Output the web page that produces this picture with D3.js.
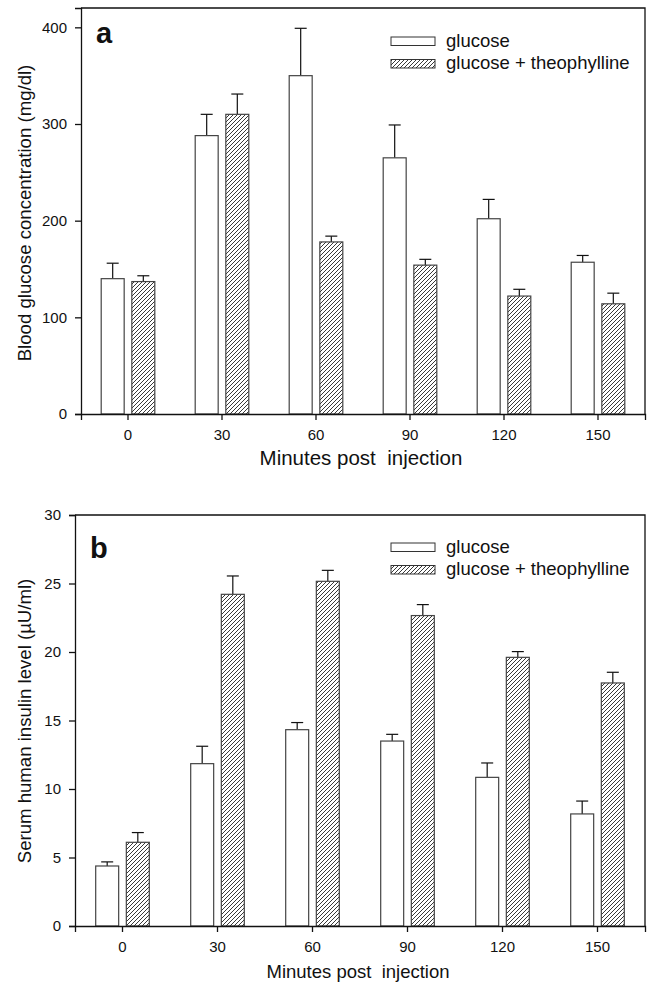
<!DOCTYPE html>
<meta charset="utf-8">
<style>
  body { margin: 0; background: #fff; }
  text { font-family: "Liberation Sans", Arial, sans-serif; fill: #111; }
  .domain { stroke: #111; stroke-width: 1.3; }
  .tick line { stroke: #111; stroke-width: 1.3; }
</style>
<body>
<script src="https://cdn.jsdelivr.net/npm/d3@7"></script>
<script>
  var minutes = ["0", "30", "60", "90", "120", "150"];
  var series = ["glucose", "glucose + theophylline"];

  // panel a: blood glucose (mg/dl)
  var bgGlucose = [140, 288, 350, 265, 202, 157];
  var bgGlucoseErr = [16, 22, 49, 34, 20, 7];
  var bgTheo = [137, 310, 178, 154, 122, 114];
  var bgTheoErr = [6, 21, 6, 6, 7, 11];
  var bgTicks = [0, 100, 200, 300, 400];

  // panel b: serum insulin (uU/ml)
  var insGlucose = [4.38, 11.85, 14.33, 13.5, 10.85, 8.18];
  var insGlucoseErr = [0.3, 1.27, 0.52, 0.49, 1.05, 0.94];
  var insTheo = [6.11, 24.21, 25.16, 22.66, 19.61, 17.74];
  var insTheoErr = [0.71, 1.34, 0.8, 0.8, 0.42, 0.78];
  var insTicks = [0, 5, 10, 15, 20, 25, 30];

  var width = 648, height = 983;

  var svg = d3.select("body").append("svg")
    .attr("width", width)
    .attr("height", height)

  var defs = svg.append("defs");
  defs.append("pattern")
    .attr("id", "hatch")
    .attr("patternUnits", "userSpaceOnUse")
    .attr("width", 4)
    .attr("height", 4)
    .append("path")
    .attr("d", "M-1,1 l2,-2 M0,4 l4,-4 M3,5 l2,-2")
    .attr("stroke", "#222")
    .attr("stroke-width", 0.9)

  function panel(p) {
    var g = svg.append("g");

    var x = d3.scaleBand().domain(minutes).range([p.left, p.right]);
    var bw = x.bandwidth();
    var x1 = d3.scaleBand().domain(series)
      .range([bw / 2 - 26.8, bw / 2 + 26.8]).paddingInner(0.25);
    var y = d3.scaleLinear().domain([0, p.ymax]).range([p.bottom, p.top]);

    var rows = [];
    minutes.forEach(function(m, i) {
      rows.push({ m: m, s: series[0], v: p.a[i], e: p.ae[i] });
      rows.push({ m: m, s: series[1], v: p.b[i], e: p.be[i] });
    });

    // error bars (drawn first so bar outline sits on top)
    var eb = g.selectAll(".err").data(rows).enter().append("g").attr("class", "err");
    eb.append("line")
      .attr("x1", function(d) { return x(d.m) + x1(d.s) + x1.bandwidth() / 2 })
      .attr("x2", function(d) { return x(d.m) + x1(d.s) + x1.bandwidth() / 2 })
      .attr("y1", function(d) { return y(d.v) })
      .attr("y2", function(d) { return y(d.v + d.e) })
      .attr("stroke", "#111").attr("stroke-width", 1.2)
    eb.append("line")
      .attr("x1", function(d) { return x(d.m) + x1(d.s) + x1.bandwidth() / 2 - 6 })
      .attr("x2", function(d) { return x(d.m) + x1(d.s) + x1.bandwidth() / 2 + 6 })
      .attr("y1", function(d) { return y(d.v + d.e) })
      .attr("y2", function(d) { return y(d.v + d.e) })
      .attr("stroke", "#111").attr("stroke-width", 1.2)

    g.selectAll(".bar").data(rows).enter().append("rect")
      .attr("x", function(d) { return x(d.m) + x1(d.s) })
      .attr("width", x1.bandwidth())
      .attr("y", function(d) { return y(d.v) })
      .attr("height", function(d) { return y(0) - y(d.v) })
      .attr("fill", function(d) { return d.s == series[0] ? "#fff" : "url(#hatch)" })
      .attr("stroke", "#444")
      .attr("stroke-width", 1.2)

    // frame top and right
    g.append("path")
      .attr("d", "M" + p.left + "," + p.top + "H" + p.right + "V" + p.bottom)
      .attr("fill", "none").attr("stroke", "#111").attr("stroke-width", 1.3)

    var xa = g.append("g")
      .attr("transform", "translate(0," + p.bottom + ")")
      .call(d3.axisBottom(x).tickSizeOuter(0).tickSize(6).tickPadding(9))
    xa.selectAll("text").style("font-size", "15px")

    var ya = g.append("g")
      .attr("transform", "translate(" + p.left + ",0)")
      .call(d3.axisLeft(y).tickValues(p.ticks).tickSizeOuter(0).tickSize(6).tickPadding(8))
    ya.selectAll("text").style("font-size", "15px")

    g.append("text")
      .attr("x", (p.left + p.right) / 2 - 2)
      .attr("y", p.xtitleY)
      .attr("text-anchor", "middle")
      .style("font-size", p.xtitleSize + "px")
      .style("white-space", "pre")
      .text("Minutes post  injection")

    g.append("text")
      .attr("transform", "translate(31," + p.ytitleY + ") rotate(-90)")
      .attr("text-anchor", "middle")
      .style("font-size", "18.6px")
      .text(p.ytitle)

    g.append("text")
      .attr("x", p.left + 15)
      .attr("y", p.top + p.letterDy)
      .style("font-size", "29px")
      .style("font-weight", "bold")
      .text(p.letter)

    // legend
    var lg = g.append("g");
    series.forEach(function(s, i) {
      lg.append("rect")
        .attr("x", 391).attr("y", p.legY + i * 22.5)
        .attr("width", 44).attr("height", 8.5)
        .attr("fill", i == 0 ? "#fff" : "url(#hatch)")
        .attr("stroke", "#333").attr("stroke-width", 1)
      lg.append("text")
        .attr("x", 446).attr("y", p.legY + i * 22.5 + 9.5)
        .style("font-size", "18.5px")
        .text(s)
    });
  }

  panel({
    left: 81, right: 645, top: 8, bottom: 414, ymax: 420,
    a: bgGlucose, ae: bgGlucoseErr, b: bgTheo, be: bgTheoErr, ticks: bgTicks,
    xtitleY: 465, xtitleSize: 20.5, ytitleY: 213,
    ytitle: "Blood glucose concentration (mg/dl)",
    letter: "a", letterDy: 35, legY: 37
  });

  panel({
    left: 75, right: 645, top: 515, bottom: 926, ymax: 30,
    a: insGlucose, ae: insGlucoseErr, b: insTheo, be: insTheoErr, ticks: insTicks,
    xtitleY: 978, xtitleSize: 18.5, ytitleY: 721,
    ytitle: "Serum human insulin level (\u00b5U/ml)",
    letter: "b", letterDy: 43, legY: 543
  });
</script>
</body>
